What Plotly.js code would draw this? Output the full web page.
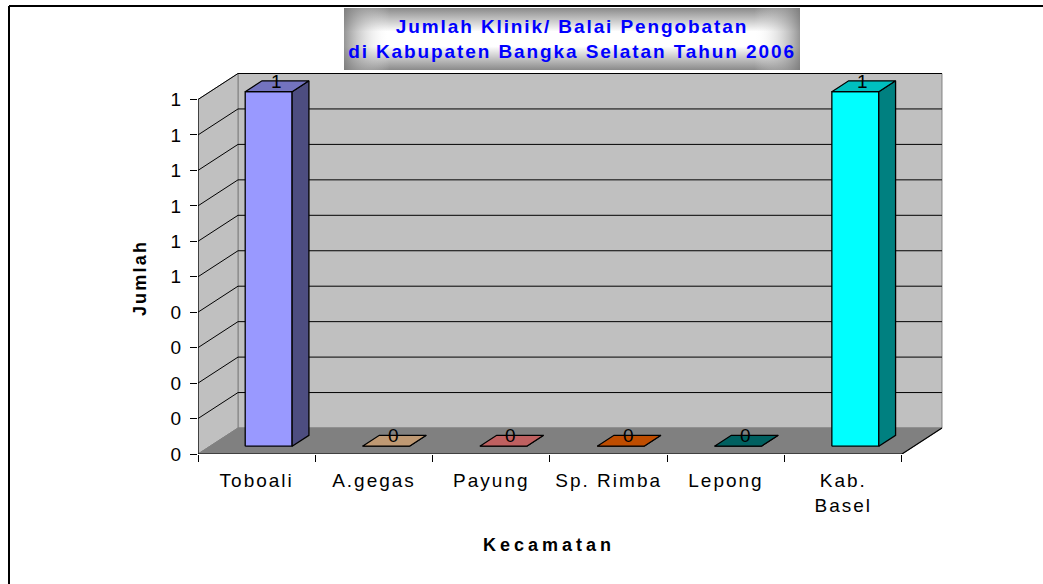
<!DOCTYPE html>
<html><head><meta charset="utf-8">
<script src="https://cdn.plot.ly/plotly-3.0.1.min.js"></script>
<style>
html,body{margin:0;padding:0;background:#fff;}
#chart{width:1043px;height:584px;}
#chart svg text{letter-spacing:2px;}
#chart .gtitle{letter-spacing:1.9px;}
#chart .x3title{letter-spacing:4px;}
#chart .y3title{letter-spacing:2.2px;}
</style></head><body><div id="chart"></div>
<script>
// ---- data ----
const categories = ['Toboali','A.gegas','Payung','Sp. Rimba','Lepong','Kab.<br>Basel'];
const values = [1,0,0,0,0,1];
const yTickVals = [0,0.1,0.2,0.3,0.4,0.5,0.6,0.7,0.8,0.9,1];
const yTickText = ['0','0','0','0','0','1','1','1','1','1','1'];
const barColors = ['#9999FF','#FFCC99','#FF8080','#FF6600','#008080','#00FFFF'];
const titleText = 'Jumlah Klinik/ Balai Pengobatan<br>di Kabupaten Bangka Selatan Tahun 2006';
const xTitle = 'Kecamatan';
const yTitle = 'Jumlah';

// ---- geometry / style ----
const W=1043,H=584, ML=198, MR=99, MT=72, MB=130;
const PLOT_W=W-ML-MR, PLOT_H=H-MT-MB;
const PX_PER_CAT=117.33, PX_PER_UNIT=354.5;
const DX=40/PX_PER_CAT, DY=26/PX_PER_UNIT;
const BW=0.4, D0=0.3, D1=0.72;
const nCat=categories.length;
const xRange=[0, PLOT_W/PX_PER_CAT], yRange=[0, PLOT_H/PX_PER_UNIT];
const yMax=yTickVals[yTickVals.length-1];
const FONT='Liberation Sans, Arial, sans-serif';
const pX=px=>(px-ML)/PLOT_W, pY=py=>(H-MB-py)/PLOT_H;

function shade(hex,f){
  const n=parseInt(hex.slice(1),16);
  const r=Math.round(((n>>16)&255)*f), g=Math.round(((n>>8)&255)*f), b=Math.round((n&255)*f);
  return 'rgb('+r+','+g+','+b+')';
}
function poly(xs,ys,fill,lc,lw,xa){
  return {type:'scatter',mode:'lines',x:xs.concat([xs[0]]),y:ys.concat([ys[0]]),fill:'toself',
    fillcolor:fill,line:{color:lc,width:lw},xaxis:xa,yaxis:'y',hoverinfo:'skip',showlegend:false};
}
function line(xs,ys,lc,lw,xa){
  return {type:'scatter',mode:'lines',x:xs,y:ys,line:{color:lc,width:lw},xaxis:xa,yaxis:'y',
    hoverinfo:'skip',showlegend:false,connectgaps:false};
}

const traces=[];
// walls & floor (main axis x)
traces.push(poly([DX,nCat+DX,nCat+DX,DX],[DY,DY,yMax+DY,yMax+DY],'#C0C0C0','#808080',1,'x'));
traces.push(poly([0,DX,DX,0],[0,DY,yMax+DY,yMax],'#C0C0C0','#808080',1,'x'));
traces.push(poly([0,nCat,nCat+DX,DX],[0,0,DY,DY],'#808080','#808080',1,'x'));
// gridlines
const gx=[],gy=[];
yTickVals.slice(1).forEach(v=>{gx.push(0,DX,nCat+DX,null);gy.push(v,v+DY,v+DY,null);});
traces.push(line(gx,gy,'#000',1,'x'));
// front axis edges
traces.push(line([0,0,null,0,nCat,nCat+DX],[yMax,0,null,0,0,DY],'#000',1.2,'x'));

// bars (overlay axis x2)
const annotations=[];
values.forEach((v,i)=>{
  const c0=i+0.5-BW/2, c1=i+0.5+BW/2, col=barColors[i];
  traces.push(poly([c0+D0*DX,c1+D0*DX,c1+D0*DX,c0+D0*DX],[D0*DY,D0*DY,v+D0*DY,v+D0*DY],col,'#000',1.3,'x2'));
  traces.push(poly([c1+D0*DX,c1+D1*DX,c1+D1*DX,c1+D0*DX],[D0*DY,D1*DY,v+D1*DY,v+D0*DY],shade(col,0.5),'#000',1.3,'x2'));
  traces.push(poly([c0+D0*DX,c1+D0*DX,c1+D1*DX,c0+D1*DX],[v+D0*DY,v+D0*DY,v+D1*DY,v+D1*DY],shade(col,0.75),'#000',1.3,'x2'));
  annotations.push({xref:'x2',yref:'y',x:i+0.5+(D0+D1)/2*DX,y:v+(D0+D1)/2*DY,text:String(v),
    showarrow:false,yshift:5,xanchor:'center',yanchor:'middle',font:{family:FONT,size:19,color:'#000'}});
});
// empty traces for title-only axes
traces.push({type:'scatter',x:[],y:[],xaxis:'x3',yaxis:'y',hoverinfo:'skip',showlegend:false});
traces.push({type:'scatter',x:[],y:[],xaxis:'x',yaxis:'y3',hoverinfo:'skip',showlegend:false});

const svg="<svg xmlns='http://www.w3.org/2000/svg' width='456' height='62' viewBox='0 0 456 62' preserveAspectRatio='none'>"+
 "<defs><linearGradient id='v' x1='0' y1='0' x2='0' y2='1'><stop offset='0' stop-color='#8a8a8a'/><stop offset='0.38' stop-color='#ffffff'/><stop offset='0.62' stop-color='#ffffff'/><stop offset='1' stop-color='#8a8a8a'/></linearGradient>"+
 "<linearGradient id='h' x1='0' y1='0' x2='1' y2='0'><stop offset='0' stop-color='#7a7a7a' stop-opacity='0.8'/><stop offset='0.1' stop-color='#ffffff' stop-opacity='0'/><stop offset='0.9' stop-color='#ffffff' stop-opacity='0'/><stop offset='1' stop-color='#7a7a7a' stop-opacity='0.8'/></linearGradient></defs>"+
 "<rect width='456' height='62' fill='url(#v)'/><rect width='456' height='62' fill='url(#h)'/></svg>";

const axBase={showgrid:false,zeroline:false,showline:false,fixedrange:true,automargin:false};
const layout={
  width:W,height:H,margin:{l:ML,r:MR,t:MT,b:MB},
  paper_bgcolor:'#fff',plot_bgcolor:'rgba(0,0,0,0)',showlegend:false,hovermode:false,
  title:{text:titleText,font:{family:FONT,size:19,color:'#0000FF',weight:'bold'},
    xref:'container',yref:'container',x:572/W,xanchor:'center',y:1-33/H,yanchor:'middle'},
  xaxis:Object.assign({},axBase,{domain:[0,1],anchor:'y',range:xRange,tickvals:categories.map((_,i)=>i).concat([nCat]),
    showticklabels:false,ticks:'outside',ticklen:7,tickwidth:1,tickcolor:'#000'}),
  xaxis2:Object.assign({},axBase,{overlaying:'x',anchor:'y',range:xRange,tickvals:categories.map((_,i)=>i+0.5),
    ticktext:categories,ticks:'',ticklabelstandoff:13,tickfont:{family:FONT,size:19,color:'#000'}}),
  yaxis:Object.assign({},axBase,{domain:[0,1],anchor:'x',range:yRange,tickvals:yTickVals,ticktext:yTickText,
    ticks:'outside',ticklen:7,tickwidth:1,tickcolor:'#000',ticklabelstandoff:3,tickfont:{family:FONT,size:19,color:'#000'}}),
  xaxis3:Object.assign({},axBase,{domain:[0.2,0.741],anchor:'free',position:0,range:[0,1],showticklabels:false,ticks:'',
    title:{text:xTitle,standoff:84,font:{family:FONT,size:18,color:'#000',weight:'bold'}}}),
  yaxis3:Object.assign({},axBase,{domain:[0.1,0.8215],anchor:'free',position:0,range:[0,1],showticklabels:false,ticks:'',
    title:{text:yTitle,standoff:45,font:{family:FONT,size:18,color:'#000',weight:'bold'}}}),
  annotations:annotations,
  images:[{source:'data:image/svg+xml;charset=utf-8,'+encodeURIComponent(svg),xref:'paper',yref:'paper',
    x:pX(344),y:pY(8),sizex:456/PLOT_W,sizey:62/PLOT_H,xanchor:'left',yanchor:'top',sizing:'stretch',layer:'below'}],
  shapes:[
    {type:'line',xref:'paper',yref:'paper',x0:pX(9),y0:pY(6),x1:pX(1060),y1:pY(6),line:{color:'#000',width:2}},
    {type:'line',xref:'paper',yref:'paper',x0:pX(9),y0:pY(6),x1:pX(9),y1:pY(600),line:{color:'#000',width:2}}
  ]
};
Plotly.newPlot('chart',traces,layout,{displayModeBar:false,staticPlot:true});
</script></body></html>
